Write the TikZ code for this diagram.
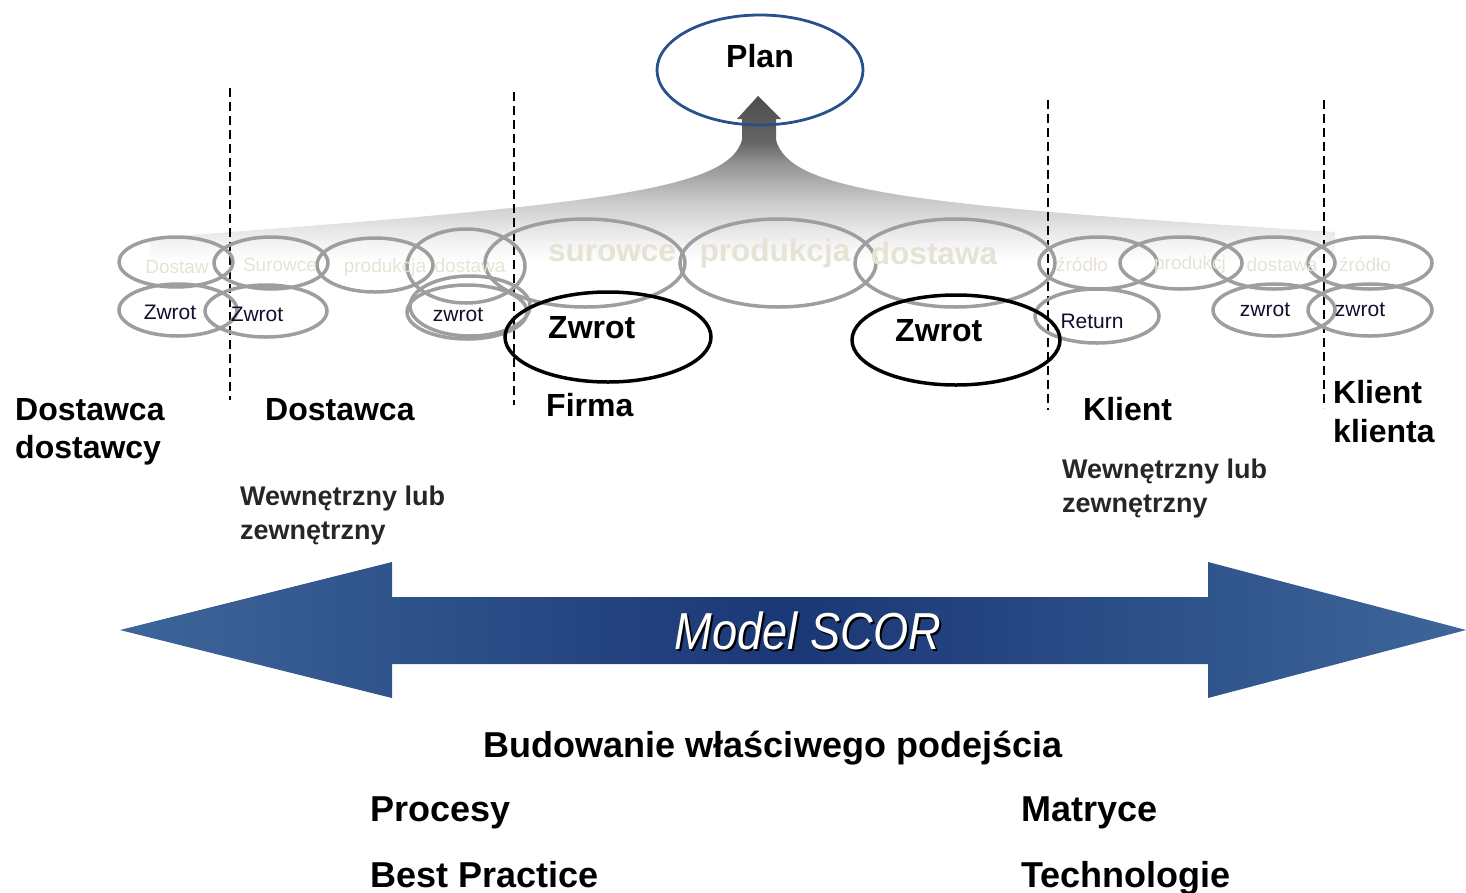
\documentclass[tikz,border=0pt]{standalone}
\usepackage{fontspec}
\setmainfont{Liberation Sans}
\usetikzlibrary{shapes.geometric}
\definecolor{planblue}{RGB}{40,80,140}
\definecolor{ellgray}{RGB}{158,158,158}
\definecolor{faint}{RGB}{230,226,212}
\definecolor{navy}{RGB}{15,15,45}
\definecolor{arrowedge}{RGB}{62,102,154}
\definecolor{arrowmid}{RGB}{26,55,118}
\pgfdeclareverticalshading{funnel}{100bp}{color(0bp)=(white); color(25bp)=(white); color(31bp)=(black!5); color(43bp)=(black!20); color(55bp)=(black!43); color(61bp)=(black!60); color(75bp)=(black!70); color(100bp)=(black!70)}
\tikzset{
  ell/.style={ellipse, draw=ellgray, line width=3.5pt, inner sep=0pt},
  bell/.style={ellipse, draw=black, line width=3.5pt, inner sep=0pt},
  lbl/.style={font=\fontsize{32}{36}\selectfont\bfseries, text=black, anchor=base west, inner sep=0pt},
  sublbl/.style={font=\fontsize{27}{30}\selectfont\bfseries, text=black!85, anchor=base west, inner sep=0pt},
  faintsm/.style={font=\fontsize{19}{21}\selectfont, text=faint, inner sep=0pt},
  faintbig/.style={font=\fontsize{31.5}{34}\selectfont\bfseries, text=faint, inner sep=0pt},
  zsm/.style={font=\fontsize{21}{23}\selectfont, text=navy, inner sep=0pt},
  divider/.style={dashed, line width=1.5pt, dash pattern=on 9pt off 5pt},
  bottomlbl/.style={font=\fontsize{36}{40}\selectfont\bfseries, text=black, anchor=base west, inner sep=0pt}
}
\begin{document}
\begin{tikzpicture}[x=1pt,y=-1pt]
\useasboundingbox (0,0) rectangle (1466,892);
% funnel / upward arrow
\path[shading=funnel] (737,119) -- (758,96) -- (781,119) -- (776,119) -- (776,140)
  .. controls (790,190) and (900,205) .. (1335,232) -- (1335,262) -- (150,262) -- (150,238)
  .. controls (600,205) and (728,190) .. (742,140) -- (742,119) -- cycle;
% Plan
\node[ellipse, draw=planblue, line width=2.8pt, minimum width=206pt, minimum height=110pt, inner sep=0pt] (plan) at (760,70) {};
\node[lbl, anchor=base] (plantxt) at (760,67) {Plan};
% dashed dividers
\coordinate (d1t) at (230,88); \coordinate (d1b) at (230,400);
\coordinate (d2t) at (514,92); \coordinate (d2b) at (514,405);
\coordinate (d3t) at (1048,100); \coordinate (d3b) at (1048,410);
\coordinate (d4t) at (1324,100); \coordinate (d4b) at (1324,408);
\draw[divider] (d1t) -- (d1b);
\draw[divider] (d2t) -- (d2b);
\draw[divider] (d3t) -- (d3b);
\draw[divider] (d4t) -- (d4b);
% left small ellipses
\node[ell, minimum width=114pt, minimum height=50pt] (e1) at (176,262) {};
\node[ell, minimum width=114pt, minimum height=52pt] (e2) at (271,263) {};
\node[ell, minimum width=116pt, minimum height=54pt] (e3) at (375,265) {};
\node[ell, minimum width=118pt, minimum height=74pt] (e4) at (466,266) {};
\node[ell, minimum width=118pt, minimum height=52pt] (e5) at (178,310) {};
\node[ell, minimum width=122pt, minimum height=52pt] (e6) at (266,311) {};
\node[ell, minimum width=120pt, minimum height=54pt] (e7) at (467,312) {};
\node[ell, minimum width=120pt, minimum height=60pt] (e7b) at (470,306) {};
% big ellipses
\node[ell, minimum width=200pt, minimum height=88pt] (e8) at (585,263) {};
\node[ell, minimum width=196pt, minimum height=88pt] (e9) at (778,263) {};
\node[ell, minimum width=200pt, minimum height=88pt] (e10) at (955,263) {};
% right small ellipses
\node[ell, minimum width=118pt, minimum height=52pt] (e11) at (1098,263) {};
\node[ell, minimum width=122pt, minimum height=52pt] (e12) at (1181,263) {};
\node[ell, minimum width=122pt, minimum height=52pt] (e13) at (1274,263) {};
\node[ell, minimum width=124pt, minimum height=52pt] (e14) at (1370,263) {};
\node[ell, minimum width=124pt, minimum height=54pt] (e15) at (1097,316) {};
\node[ell, minimum width=122pt, minimum height=52pt] (e16) at (1274,310) {};
\node[ell, minimum width=124pt, minimum height=52pt] (e17) at (1370,310) {};
% black Zwrot ellipses
\node[bell, minimum width=206pt, minimum height=90pt] (z1) at (608,337) {};
\node[bell, minimum width=208pt, minimum height=90pt] (z2) at (956,340) {};
% faint labels
\node[faintsm] (t1) at (177,267) {Dostaw};
\node[faintsm] (t2) at (280,265) {Surowce};
\node[faintsm] (t3) at (385,268) {produkcja};
\node[faintsm] (t4) at (470,266) {dostawa};
\node[faintbig] (t5) at (612,253) {surowce};
\node[faintbig] (t6) at (775,253) {produkcja};
\node[faintbig] (t7) at (934,253) {dostawa};
\node[faintsm] (t8) at (1082,265) {źródło};
\node[faintsm] (t9) at (1190,265) {produkcj};
\node[faintsm] (t10) at (1282,265) {dostawa};
\node[faintsm] (t11) at (1365,265) {źródło};
% Zwrot labels
\node[zsm] (r1) at (170,312) {Zwrot};
\node[zsm] (r2) at (257,314) {Zwrot};
\node[zsm] (r3) at (458,315) {zwrot};
\node[zsm] (r4) at (1092,321) {Return};
\node[zsm] (r5) at (1265,310) {zwrot};
\node[zsm] (r6) at (1360,310) {zwrot};
\node[lbl] (zb1) at (548,338) {Zwrot};
\node[lbl] (zb2) at (895,341) {Zwrot};
% tier labels
\node[lbl] (l1a) at (15,420) {Dostawca};
\node[lbl] (l1b) at (15,458) {dostawcy};
\node[lbl] (l2) at (265,420) {Dostawca};
\node[lbl] (l3) at (546,416) {Firma};
\node[lbl] (l4) at (1083,420) {Klient};
\node[lbl] (l5a) at (1333,403) {Klient};
\node[lbl] (l5b) at (1333,442) {klienta};
\node[sublbl] (w1a) at (240,505) {Wewnętrzny lub};
\node[sublbl] (w1b) at (240,539) {zewnętrzny};
\node[sublbl] (w2a) at (1062,478) {Wewnętrzny lub};
\node[sublbl] (w2b) at (1062,512) {zewnętrzny};
% double arrow
\path[left color=arrowedge, right color=arrowedge, middle color=arrowmid]
  (120,630) -- (392,562) -- (392,597) -- (1208,597) -- (1208,562) -- (1466,630)
  -- (1208,698) -- (1208,664) -- (392,664) -- (392,698) -- cycle;
\node[font=\fontsize{52}{56}\selectfont\itshape, text=black, xscale=0.87, inner sep=0pt] (scorsh) at (810,633) {Model SCOR};
\node[font=\fontsize{52}{56}\selectfont\itshape, text=white, xscale=0.87, inner sep=0pt] (scor) at (808,631) {Model SCOR};
% bottom texts
\node[bottomlbl, anchor=base] (bud) at (773,757) {Budowanie właściwego podejścia};
\node[bottomlbl] (b1) at (370,821) {Procesy};
\node[bottomlbl] (b2) at (370,887) {Best Practice};
\node[bottomlbl] (b3) at (1021,821) {Matryce};
\node[bottomlbl] (b4) at (1021,887) {Technologie};
\end{tikzpicture}
\end{document}
